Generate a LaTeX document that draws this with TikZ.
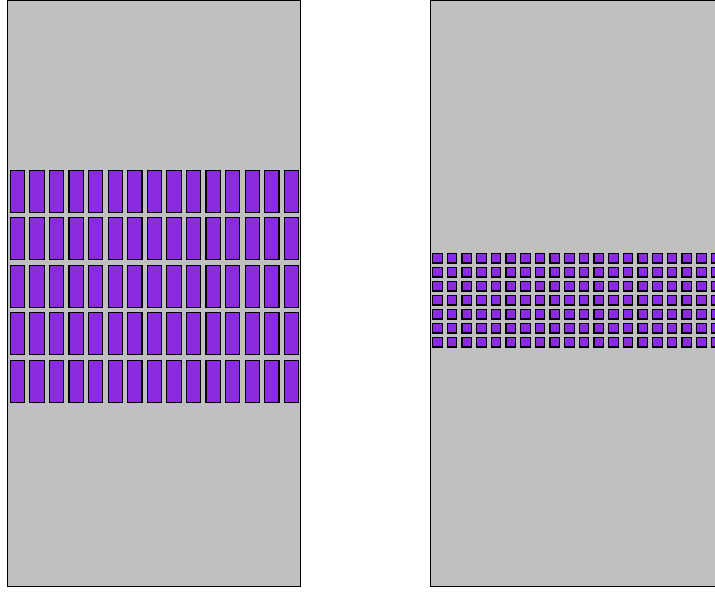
\documentclass[tikz,border=0pt]{standalone}
\definecolor{panelgray}{RGB}{192,192,192}
\definecolor{cellpurple}{RGB}{138,43,226}
\begin{document}
\begin{tikzpicture}[x=1pt,y=-1pt,
		panel/.style={draw=black, line width=0.9pt, fill=panelgray},
		cell/.style={draw=black, line width=1.2pt, fill=cellpurple}]
		\useasboundingbox (0,0) rectangle (715,592);

		% left panel, tall cells
		\draw[panel] (7.5,0) rectangle (300.5,586);
		\foreach \i in {0,...,14}
			\foreach \j in {0,...,4}
				\draw[cell] ({10.3+\i*19.57},{170.3+\j*47.5}) rectangle +(14.3,42);

		% right panel, small cells
		\draw[panel] (430.5,0) rectangle (724,586);
		\foreach \i in {0,...,20}
			\foreach \j in {0,...,6}
				\draw[cell] ({432.6+\i*14.67},{253.6+\j*14}) rectangle +(9.5,9.3);

	\end{tikzpicture}
\end{document}
